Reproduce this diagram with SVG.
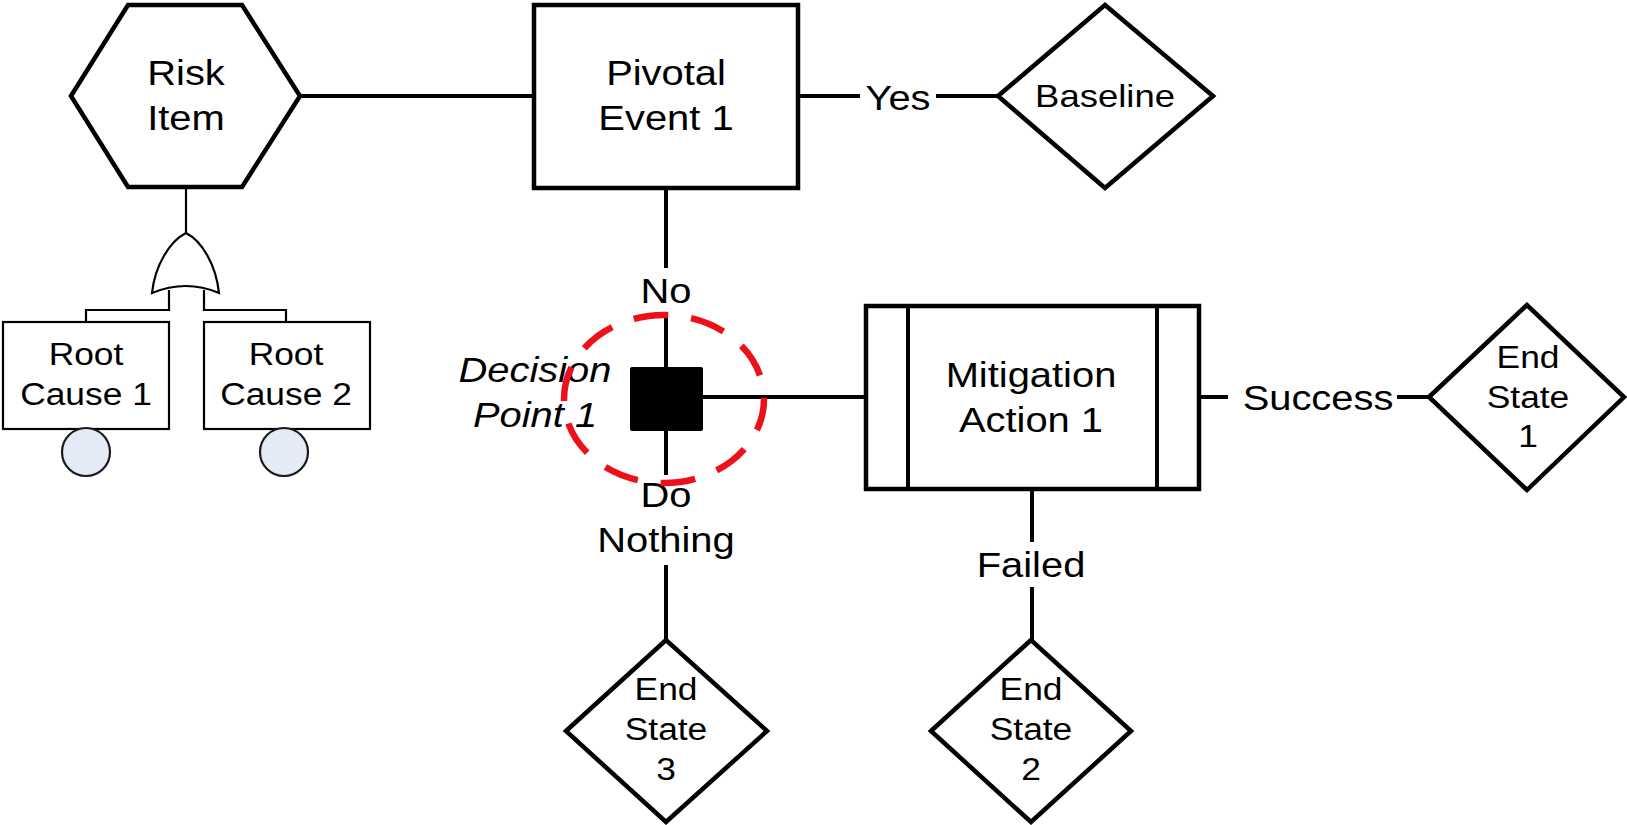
<svg xmlns="http://www.w3.org/2000/svg" width="1627" height="825" viewBox="0 0 1627 825">
  <style>
    .thick { fill: #ffffff; stroke: #000000; stroke-width: 4.5; stroke-linejoin: miter; }
    .thin { fill: #ffffff; stroke: #000000; stroke-width: 2.2; }
    .wire { fill: none; stroke: #000000; stroke-width: 4; }
    .wire-thin { fill: none; stroke: #000000; stroke-width: 2.2; }
    text { font-family: "Liberation Sans", Arial, sans-serif; fill: #000000; text-anchor: middle; }
    .big { font-size: 35px; }
    .small { font-size: 31px; }
    .mid { font-size: 32px; }
    .ital { font-size: 35px; font-style: italic; }
    .event { fill: #e4ebf6; stroke: #1a1a1a; stroke-width: 2.2; }
    .focus { fill: none; stroke: #ec1019; stroke-width: 6.5; stroke-dasharray: 35 23; stroke-dashoffset: 3; }
  </style>

  <!-- connectors -->
  <g id="connectors">
    <line class="wire" x1="300" y1="96" x2="534" y2="96"/>
    <line class="wire" x1="798" y1="96" x2="860" y2="96"/>
    <line class="wire" x1="936" y1="96" x2="998" y2="96"/>
    <line class="wire" x1="666" y1="188" x2="666" y2="268"/>
    <line class="wire" x1="666" y1="317" x2="666" y2="367"/>
    <line class="wire" x1="703" y1="397" x2="866" y2="397"/>
    <line class="wire" x1="666" y1="431" x2="666" y2="475"/>
    <line class="wire" x1="666" y1="565" x2="666" y2="640"/>
    <line class="wire" x1="1199" y1="397" x2="1228" y2="397"/>
    <line class="wire" x1="1397" y1="397" x2="1429" y2="397"/>
    <line class="wire" x1="1032" y1="489" x2="1032" y2="542"/>
    <line class="wire" x1="1032" y1="587" x2="1032" y2="640"/>
    <line class="wire-thin" x1="186" y1="187" x2="186" y2="233"/>
    <polyline class="wire-thin" points="169,290 169,310 86,310 86,322"/>
    <polyline class="wire-thin" points="204,290 204,310 286,310 286,322"/>
    <text class="big" transform="translate(898 110) scale(1.14 1)">Yes</text>
    <text class="big" transform="translate(666 303) scale(1.14 1)">No</text>
    <text class="big" transform="translate(666 507) scale(1.14 1)">Do</text>
    <text class="big" transform="translate(666 552) scale(1.14 1)">Nothing</text>
    <text class="big" transform="translate(1318 410) scale(1.14 1)">Success</text>
    <text class="big" transform="translate(1031 577) scale(1.14 1)">Failed</text>
  </g>

  <g id="risk-item">
    <polygon class="thick" points="71,96 128,5 242,5 300,96 242,187 128,187"/>
    <text class="big" transform="translate(186 85) scale(1.14 1)">Risk</text>
    <text class="big" transform="translate(186 130) scale(1.14 1)">Item</text>
  </g>

  <g id="or-gate">
    <path class="thin" d="M186,233 C170,241 155,265 152,293 Q186,279 219,293 C216,265 202,241 186,233 Z"/>
  </g>

  <g id="root-cause-1">
    <rect class="thin" x="3" y="322" width="166" height="107"/>
    <text class="small" transform="translate(86 365) scale(1.14 1)">Root</text>
    <text class="small" transform="translate(86 405) scale(1.14 1)">Cause 1</text>
    <circle class="event" cx="86" cy="452" r="24"/>
  </g>

  <g id="root-cause-2">
    <rect class="thin" x="204" y="322" width="166" height="107"/>
    <text class="small" transform="translate(286 365) scale(1.14 1)">Root</text>
    <text class="small" transform="translate(286 405) scale(1.14 1)">Cause 2</text>
    <circle class="event" cx="284" cy="452" r="24"/>
  </g>

  <g id="pivotal-event-1">
    <rect class="thick" x="534" y="5" width="264" height="183"/>
    <text class="big" transform="translate(666 85) scale(1.14 1)">Pivotal</text>
    <text class="big" transform="translate(666 130) scale(1.14 1)">Event 1</text>
  </g>

  <g id="baseline">
    <polygon class="thick" points="998,96 1105,5 1213,96 1105,188"/>
    <text class="mid" transform="translate(1105 107) scale(1.14 1)">Baseline</text>
  </g>

  <g id="decision-point-1">
    <rect x="630" y="367" width="73" height="64" rx="2" fill="#000000"/>
    <text class="ital" transform="translate(535 382) scale(1.14 1)">Decision</text>
    <text class="ital" transform="translate(535 427) scale(1.14 1)">Point 1</text>
    <ellipse class="focus" cx="664" cy="399" rx="100" ry="84"/>
  </g>

  <g id="mitigation-action-1">
    <rect class="thick" x="866" y="306" width="333" height="183"/>
    <line class="wire" x1="908" y1="306" x2="908" y2="489"/>
    <line class="wire" x1="1157" y1="306" x2="1157" y2="489"/>
    <text class="big" transform="translate(1031 387) scale(1.14 1)">Mitigation</text>
    <text class="big" transform="translate(1031 432) scale(1.14 1)">Action 1</text>
  </g>

  <g id="end-state-1">
    <polygon class="thick" points="1429,397 1527,305 1624,397 1527,490"/>
    <text class="small" transform="translate(1528 368) scale(1.14 1)">End</text>
    <text class="small" transform="translate(1528 408) scale(1.14 1)">State</text>
    <text class="small" transform="translate(1528 447) scale(1.14 1)">1</text>
  </g>

  <g id="end-state-3">
    <polygon class="thick" points="566,731 666,640 767,731 666,822"/>
    <text class="small" transform="translate(666 700) scale(1.14 1)">End</text>
    <text class="small" transform="translate(666 740) scale(1.14 1)">State</text>
    <text class="small" transform="translate(666 780) scale(1.14 1)">3</text>
  </g>

  <g id="end-state-2">
    <polygon class="thick" points="931,731 1031,640 1131,731 1031,822"/>
    <text class="small" transform="translate(1031 700) scale(1.14 1)">End</text>
    <text class="small" transform="translate(1031 740) scale(1.14 1)">State</text>
    <text class="small" transform="translate(1031 780) scale(1.14 1)">2</text>
  </g>
</svg>
